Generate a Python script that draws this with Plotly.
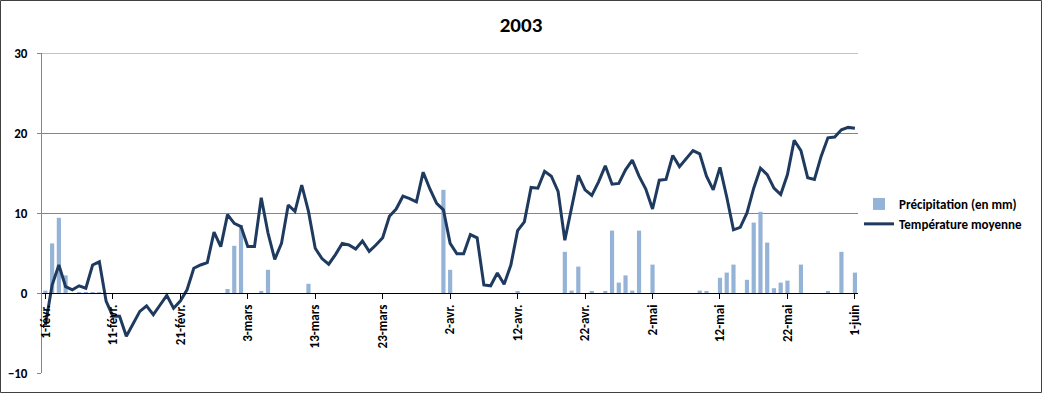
import pandas as pd
import plotly.graph_objects as go

# Daily dates, 1 Feb 2003 -> 1 Jun 2003
dates = pd.date_range("2003-02-01", "2003-06-01", freq="D")

temperature = [
    -4.0, 1.0, 3.5, 0.8, 0.4, 0.9, 0.6, 3.5, 3.9, -1.0,
    -2.9, -2.9, -5.4, -3.8, -2.3, -1.6, -2.7, -1.5, -0.3, -1.9,
    -1.0, 0.4, 3.1, 3.5, 3.8, 7.6, 5.8, 9.8, 8.7, 8.3,
    5.8, 5.8, 11.9, 7.5, 4.2, 6.2, 11.0, 10.2, 13.5, 10.2,
    5.6, 4.3, 3.6, 4.8, 6.2, 6.0, 5.5, 6.5, 5.2, 6.0,
    6.9, 9.6, 10.5, 12.1, 11.8, 11.4, 15.1, 13.0, 11.2, 10.4,
    6.2, 4.9, 4.9, 7.3, 6.9, 1.0, 0.9, 2.5, 1.1, 3.5,
    7.8, 8.9, 13.2, 13.1, 15.2, 14.6, 12.7, 6.6, 10.8, 14.7,
    12.9, 12.2, 13.9, 15.9, 13.6, 13.7, 15.4, 16.6, 14.6, 13.0,
    10.5, 14.1, 14.2, 17.2, 15.8, 16.8, 17.8, 17.4, 14.6, 12.9,
    15.7, 12.0, 7.9, 8.2, 10.0, 13.1, 15.6, 14.8, 13.1, 12.3,
    14.8, 19.1, 17.8, 14.4, 14.2, 17.1, 19.4, 19.5, 20.4, 20.7,
    20.6,
]

precipitation = [
    0.3, 6.2, 9.4, 2.2, 0.0, 0.1, 0.1, 0.1, 0.1, 0.0,
    0.0, 0.0, 0.0, 0.0, 0.0, 0.0, 0.0, 0.0, 0.0, 0.0,
    0.0, 0.0, 0.0, 0.0, 0.0, 0.0, 0.0, 0.5, 5.9, 8.5,
    0.0, 0.0, 0.2, 2.9, 0.0, 0.0, 0.0, 0.0, 0.0, 1.15,
    0.0, 0.0, 0.0, 0.0, 0.0, 0.0, 0.0, 0.0, 0.0, 0.0,
    0.0, 0.0, 0.0, 0.0, 0.0, 0.0, 0.0, 0.0, 0.0, 12.9,
    2.9, 0.0, 0.0, 0.0, 0.0, 0.0, 0.0, 0.0, 0.0, 0.0,
    0.15, 0.0, 0.0, 0.0, 0.0, 0.0, 0.0, 5.15, 0.3, 3.3,
    0.0, 0.15, 0.0, 0.15, 7.8, 1.3, 2.2, 0.3, 7.8, 0.0,
    3.55, 0.0, 0.0, 0.0, 0.0, 0.0, 0.0, 0.3, 0.15, 0.0,
    1.9, 2.55, 3.55, 0.0, 1.65, 8.8, 10.15, 6.3, 0.6, 1.3,
    1.55, 0.0, 3.55, 0.0, 0.0, 0.0, 0.15, 0.0, 5.15, 0.0,
    2.55,
]

tick_dates = ["2003-02-01", "2003-02-11", "2003-02-21", "2003-03-03", "2003-03-13",
              "2003-03-23", "2003-04-02", "2003-04-12", "2003-04-22", "2003-05-02",
              "2003-05-12", "2003-05-22", "2003-06-01"]
tick_labels = ["1-févr.", "11-févr.", "21-févr.", "3-mars", "13-mars", "23-mars",
               "2-avr.", "12-avr.", "22-avr.", "2-mai", "12-mai", "22-mai", "1-juin"]
y_ticks = [-10, 0, 10, 20, 30]

FONT = "Carlito, Lato, 'Liberation Sans', sans-serif"

fig = go.Figure()
fig.add_trace(go.Bar(
    x=dates, y=precipitation, name="Précipitation (en mm)",
    marker=dict(color="#95B3D7", line=dict(width=0)),
))
fig.add_trace(go.Scatter(
    x=dates, y=temperature, name="Température moyenne", mode="lines",
    line=dict(color="#1F3A5F", width=3),
))

# plot area geometry (pixels)
L, R, T, B = 42, 858, 53, 373
W, H = 1042, 393
pw, ph = R - L, B - T

fig.update_layout(
    width=W, height=H,
    margin=dict(l=L, r=W - R, t=T, b=H - B, pad=0, autoexpand=False),
    paper_bgcolor="white", plot_bgcolor="white",
    title=dict(text="2003", x=0.5, xref="container", xanchor="center",
               y=1 - 25 / H, yref="container", yanchor="middle",
               font=dict(family=FONT, size=21, color="black", weight="bold")),
    bargap=0.38,
    showlegend=True,
    legend=dict(x=(859 - L) / pw, xanchor="left", y=(B - 214) / ph, yanchor="middle",
                font=dict(family=FONT, size=13, color="black", weight="bold"),
                bgcolor="rgba(0,0,0,0)", traceorder="normal", tracegroupgap=4,
                itemwidth=30),
    xaxis=dict(
        range=["2003-01-31 12:00", "2003-06-01 11:00"],
        anchor="free", position=(B - 293.3) / ph, automargin=False,
        tickmode="array", tickvals=tick_dates, ticktext=tick_labels,
        tickangle=-90, ticks="outside", ticklen=5, tickcolor="black",
        showline=True, linecolor="black", linewidth=1.3,
        showgrid=False, zeroline=False,
        tickfont=dict(family=FONT, size=13, color="black", weight="bold"),
    ),
    yaxis=dict(
        range=[-10, 30], tickvals=y_ticks, automargin=False,
        ticks="outside", ticklen=4, tickcolor="#868686",
        ticklabelstandoff=7,
        showline=True, linecolor="#868686", linewidth=1,
        showgrid=True, gridcolor="#868686", gridwidth=1,
        zeroline=False,
        tickfont=dict(family=FONT, size=13, color="black", weight="bold"),
    ),
    shapes=[
        dict(type="line", xref="paper", yref="y", x0=0, x1=1, y0=y_ticks[-1], y1=y_ticks[-1],
             line=dict(color="#868686", width=1), layer="below"),
        dict(type="rect", xref="paper", yref="paper",
             x0=(0.5 - L) / pw, x1=(W - 0.5 - L) / pw,
             y0=(B - (H - 0.5)) / ph, y1=(B - 0.5) / ph,
             line=dict(color="#404040", width=1), fillcolor="rgba(0,0,0,0)",
             layer="above"),
    ],
)

fig.write_html(
    "out.html",
    config={"displayModeBar": False},
    post_script="document.body.style.margin='0';document.body.style.padding='0';"
                "document.documentElement.style.overflow='hidden';",
)
